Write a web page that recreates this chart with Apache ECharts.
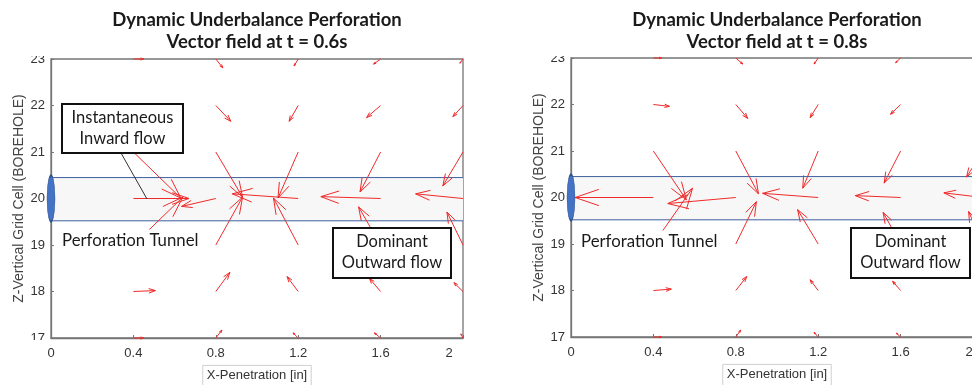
<!DOCTYPE html>
<html>
<head>
<meta charset="utf-8">
<script src="https://cdn.jsdelivr.net/npm/echarts@6/dist/echarts.min.js"></script>
<style>
html, body { margin: 0; padding: 0; background: #fff; }
#chart { width: 972px; height: 385px; }
</style>
</head>
<body>
<div id="chart"></div>
<script>
// quiver origins
const xPts = [0.4, 0.8, 1.2, 1.6, 2.0];
const zRows = [23, 22, 21, 20, 19, 18, 17];

// t = 0.6s, one row per zRows entry
const u06 = [
  [0.05, 0.034, -0.02, -0.034, -0.015],
  [0, 0.073, -0.044, -0.068, -0.049],
  [0.23, 0.13, -0.098, -0.10, -0.098],
  [0.27, -0.166, -0.32, -0.29, -0.23],
  [0.24, 0.13, -0.12, -0.107, -0.078],
  [0.107, 0.068, -0.054, -0.054, -0.044],
  [0.05, 0.03, -0.025, -0.03, -0.01]
];
const v06 = [
  [0, -0.19, -0.15, -0.11, -0.09],
  [0, -0.34, -0.34, -0.26, -0.24],
  [-0.99, -0.97, -0.99, -0.86, -0.73],
  [0, -0.17, 0.1, 0.04, 0.1],
  [1.03, 1.03, 1.01, 0.82, 0.71],
  [0.02, 0.41, 0.32, 0.28, 0.19],
  [0, 0.17, 0.11, 0.11, 0.09]
];

// t = 0.8s
const u08 = [
  [0.04, 0.034, -0.02, -0.024, -0.02],
  [0.078, 0.058, -0.039, -0.049, -0.04],
  [0.16, 0.11, -0.075, -0.08, -0.08],
  [-0.38, -0.33, -0.27, -0.22, -0.19],
  [0.19, 0.10, -0.10, -0.085, -0.07],
  [0.087, 0.053, -0.039, -0.039, -0.035],
  [0.04, 0.024, -0.02, -0.02, -0.015]
];
const v08 = [
  [0, -0.13, -0.13, -0.10, -0.08],
  [-0.04, -0.30, -0.28, -0.21, -0.2],
  [-1.05, -0.92, -0.8, -0.69, -0.56],
  [0, -0.13, 0.09, 0.04, 0.1],
  [1.2, 0.91, 0.74, 0.68, 0.7],
  [0.03, 0.3, 0.23, 0.2, 0.18],
  [0, 0.15, 0.1, 0.08, 0.07]
];

// perforation tunnel: x from, x to, z bottom, z top
const tunnel = [0, 2, 19.52, 20.45];

function toQuiver(u, v) {
    const out = [];
    zRows.forEach((z, i) => xPts.forEach((x, j) => out.push([x, z, u[i][j], v[i][j]])));
    return out;
}

function renderArrow(params, api) {
    const x = api.value(0), z = api.value(1);
    const p0 = api.coord([x, z]);
    const p1 = api.coord([x + api.value(2), z + api.value(3)]);
    const dx = p1[0] - p0[0], dy = p1[1] - p0[1];
    const len = Math.hypot(dx, dy);
    if (len < 0.5) return null;
    const ang = Math.atan2(dy, dx);
    const h = Math.min(0.32 * len, 28);
    const a = 0.33;
    const l = [p1[0] - h * Math.cos(ang - a), p1[1] - h * Math.sin(ang - a)];
    const r = [p1[0] - h * Math.cos(ang + a), p1[1] - h * Math.sin(ang + a)];
    const st = { stroke: '#f02a2a', lineWidth: 1, fill: null };
    return {
        type: 'group',
        children: [
            { type: 'line', shape: { x1: p0[0], y1: p0[1], x2: p1[0], y2: p1[1] }, style: st },
            { type: 'polyline', shape: { points: [l, p1, r] }, style: st }
        ]
    };
}

function renderTunnel(params, api) {
    const a = api.coord([api.value(0), api.value(3)]);
    const b = api.coord([api.value(1), api.value(2)]);
    const line = { stroke: '#3f5f9f', lineWidth: 1 };
    return {
        type: 'group',
        children: [
            { type: 'rect', shape: { x: a[0], y: a[1], width: b[0] - a[0], height: b[1] - a[1] }, style: { fill: '#f7f7f7' } },
            { type: 'line', shape: { x1: a[0], y1: a[1], x2: b[0], y2: a[1] }, style: line },
            { type: 'line', shape: { x1: a[0], y1: b[1], x2: b[0], y2: b[1] }, style: line }
        ]
    };
}

const axisGray = '#767676';
const tickFont = { fontFamily: 'Liberation Sans', fontSize: 13, color: '#333' };

function makeX(idx) {
    return {
        gridIndex: idx, type: 'value', min: 0, max: 2, interval: 0.4,
        name: 'X-Penetration [in]', nameLocation: 'middle', nameGap: 25,
        nameTextStyle: {
            fontFamily: 'Liberation Sans', fontSize: 13, color: '#333',
            borderColor: '#cfcfcf', borderWidth: 1, padding: [4, 4, 6, 4]
        },
        axisLine: { onZero: false, lineStyle: { color: axisGray, width: 1.3 } },
        axisTick: { inside: true, length: 3, lineStyle: { color: axisGray } },
        splitLine: { show: false },
        axisLabel: Object.assign({
            margin: 9,
            formatter: function (val) {
                const s = String(+val.toFixed(1));
                return Math.abs(val - 2) < 1e-6 ? '{last|' + s + '}' : s;
            },
            rich: { last: { fontFamily: 'Liberation Sans', fontSize: 13, color: '#333', padding: [0, 28, 0, 0] } }
        }, tickFont)
    };
}

function makeY(idx) {
    return {
        gridIndex: idx, type: 'value', min: 17, max: 23, interval: 1,
        name: 'Z-Vertical Grid Cell (BOREHOLE)', nameLocation: 'middle', nameGap: 24,
        nameTextStyle: { fontFamily: 'Liberation Sans', fontSize: 14, color: '#444' },
        axisLine: { show: true, onZero: false, lineStyle: { color: axisGray, width: 1.3 } },
        axisTick: { show: true, inside: true, length: 3, lineStyle: { color: axisGray } },
        splitLine: { show: false },
        axisLabel: Object.assign({ margin: 6 }, tickFont)
    };
}

function panelSeries(idx, u, v) {
    return [
        {
            type: 'custom', xAxisIndex: idx, yAxisIndex: idx, z: 1,
            renderItem: renderTunnel, data: [tunnel], silent: true
        },
        {
            type: 'custom', xAxisIndex: idx, yAxisIndex: idx, z: 3,
            renderItem: renderArrow, data: toQuiver(u, v), silent: true
        },
        {
            type: 'scatter', xAxisIndex: idx, yAxisIndex: idx, z: 4, clip: false,
            symbol: 'circle', symbolSize: [8, 46],
            itemStyle: { color: '#4472c4', borderColor: '#2f528f', borderWidth: 1, opacity: 1 },
            data: [[0, 20]], silent: true
        }
    ];
}

const calibri = 'Lato';
function textEl(x, y, text, size, opts) {
    return {
        type: 'text', x: x, y: y, z: 100, silent: true,
        style: Object.assign({
            text: text, font: size + 'px ' + calibri, fill: '#1a1a1a',
            align: 'center', verticalAlign: 'middle', lineHeight: 21
        }, opts || {})
    };
}
function boxEl(x, y, w, h) {
    return {
        type: 'rect', z: 99, silent: true,
        shape: { x: x, y: y, width: w, height: h },
        style: { fill: '#fff', stroke: '#111', lineWidth: 2 }
    };
}

var myChart = echarts.init(document.getElementById('chart'));
var option = {
    animation: false,
    grid: [
        { left: 51, right: 509, top: 59, bottom: 47, outerBoundsMode: 'none', show: true, borderColor: axisGray, borderWidth: 1.3, backgroundColor: '#fff' },
        { left: 571, right: -11, top: 58, bottom: 48, outerBoundsMode: 'none', show: true, borderColor: axisGray, borderWidth: 1.3, backgroundColor: '#fff' }
    ],
    xAxis: [makeX(0), makeX(1)],
    yAxis: [makeY(0), makeY(1)],
    series: panelSeries(0, u06, v06).concat(panelSeries(1, u08, v08)),
    graphic: [
        // title boxes cover the top of the axes
        { type: 'rect', z: 90, silent: true, shape: { x: 0, y: 0, width: 972, height: 56 }, style: { fill: '#fff' } },
        { type: 'rect', z: 90, silent: true, shape: { x: 28, y: 340, width: 20, height: 6 }, style: { fill: '#fff' } },
        textEl(257, 20, 'Dynamic Underbalance Perforation', 18.5, { font: 'bold 18.5px ' + calibri }),
        textEl(257, 42, 'Vector field at t = 0.6s', 18.5, { font: 'bold 18.5px ' + calibri }),
        textEl(777, 20, 'Dynamic Underbalance Perforation', 18.5, { font: 'bold 18.5px ' + calibri }),
        textEl(777, 42, 'Vector field at t = 0.8s', 18.5, { font: 'bold 18.5px ' + calibri }),

        // left panel notes
        { type: 'line', z: 98, silent: true, shape: { x1: 121, y1: 153, x2: 147, y2: 199 }, style: { stroke: '#333', lineWidth: 1 } },
        boxEl(62, 104, 121, 49),
        textEl(122.5, 128, 'Instantaneous\nInward flow', 16.5),
        textEl(62, 241, 'Perforation Tunnel', 16.8, { align: 'left', backgroundColor: '#fff', padding: [1, 2, 1, 0] }),
        boxEl(333, 228, 118, 50),
        textEl(392, 252, 'Dominant\nOutward flow', 16.5),

        // right panel notes
        textEl(581, 242, 'Perforation Tunnel', 16.8, { align: 'left', backgroundColor: '#fff', padding: [1, 2, 1, 0] }),
        boxEl(851, 228, 119, 50),
        textEl(910.5, 252, 'Dominant\nOutward flow', 16.5)
    ]
};
myChart.setOption(option);
</script>
</body>
</html>
